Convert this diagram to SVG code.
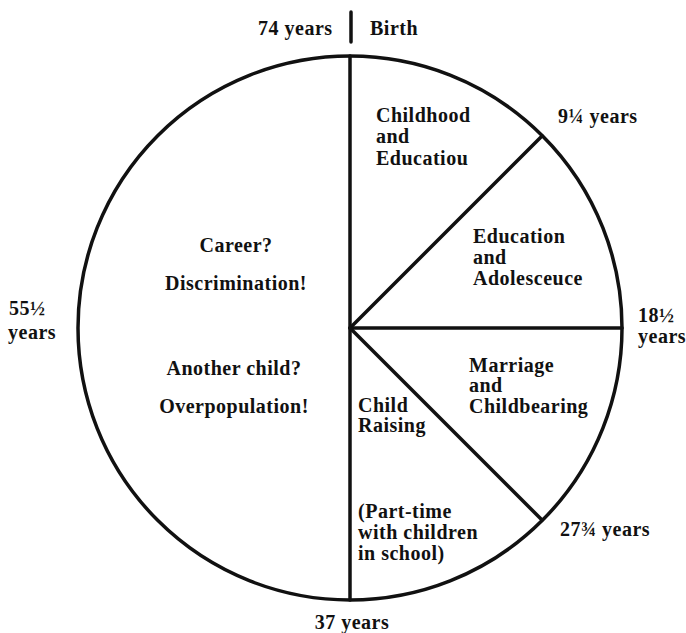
<svg xmlns="http://www.w3.org/2000/svg" width="686" height="633" viewBox="0 0 686 633">
<style>
text{font-family:"Liberation Serif","Times New Roman",serif;font-weight:bold;font-size:20px;fill:#111;letter-spacing:0.5px}
.c{text-anchor:middle}
.ln{stroke:#111;stroke-width:3.5;fill:none;stroke-linecap:round}
</style>
<rect width="686" height="633" fill="#fff"/>
<g id="connectors">
<circle class="ln" cx="350" cy="328" r="272" stroke-width="4"/>
<line class="ln" x1="350" y1="56" x2="350" y2="600" stroke-width="3"/>
<line class="ln" x1="350" y1="328" x2="542" y2="136" stroke-width="4"/>
<line class="ln" x1="350" y1="328" x2="622" y2="328" stroke-width="4"/>
<line class="ln" x1="350" y1="328" x2="542" y2="520"/>
<line class="ln" x1="351" y1="12" x2="351" y2="42" stroke-width="4"/>
</g>
<g id="labels-ages">
<text x="258" y="35">74 years</text>
<text x="370" y="35">Birth</text>
<text x="558" y="123">9¼ years</text>
<text x="638" y="322">18½</text>
<text x="638" y="343">years</text>
<text x="560" y="536">27¾ years</text>
<text class="c" x="352" y="629">37 years</text>
<text x="9" y="315" letter-spacing="1">55½</text>
<text x="8" y="339">years</text>
</g>
<g id="node-childhood">
<text x="376" y="122">Childhood</text>
<text x="376" y="143">and</text>
<text x="376" y="165">Educatiou</text>
</g>
<g id="node-adolescence">
<text x="473" y="243">Education</text>
<text x="473" y="264">and</text>
<text x="473" y="285">Adolesceuce</text>
</g>
<g id="node-marriage">
<text x="469" y="372">Marriage</text>
<text x="469" y="392">and</text>
<text x="469" y="413">Childbearing</text>
</g>
<g id="node-childraising">
<text x="358" y="412">Child</text>
<text x="358" y="432">Raising</text>
<text x="358" y="518">(Part-time</text>
<text x="358" y="539">with children</text>
<text x="358" y="560">in school)</text>
</g>
<g id="node-career">
<text class="c" x="236" y="252">Career?</text>
<text class="c" x="236" y="290">Discrimination!</text>
<text class="c" x="234" y="375">Another child?</text>
<text class="c" x="234" y="413">Overpopulation!</text>
</g>
</svg>
